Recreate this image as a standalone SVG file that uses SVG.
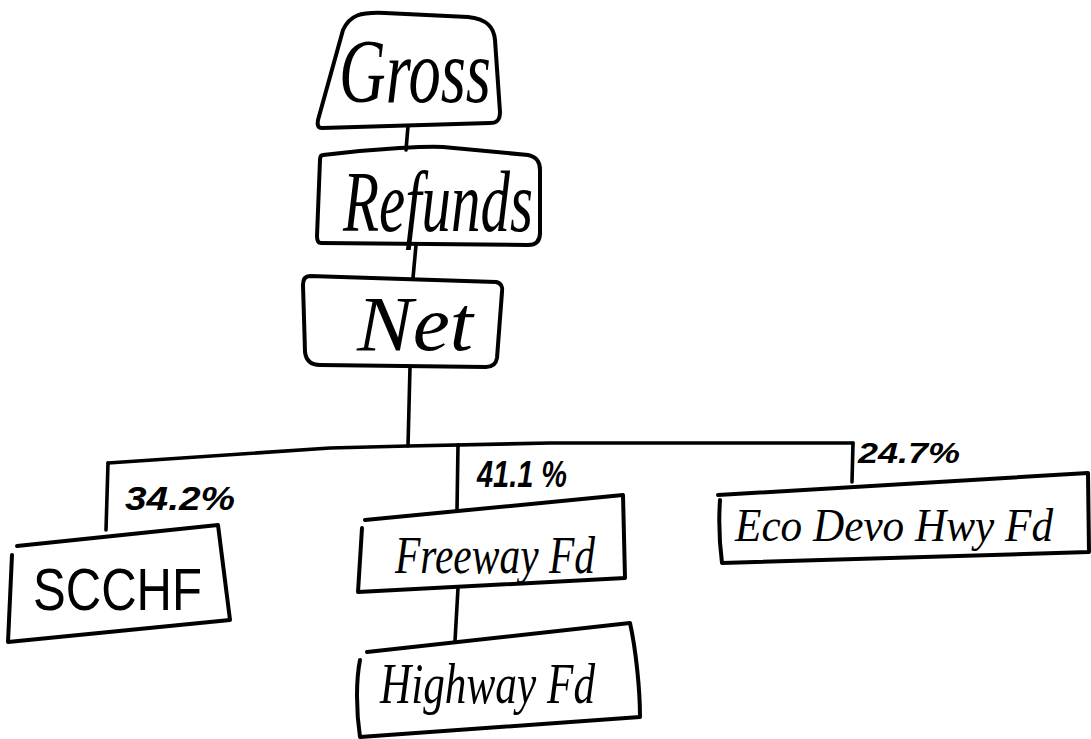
<svg xmlns="http://www.w3.org/2000/svg" width="1091" height="739" viewBox="0 0 1091 739">
<style>
.box{fill:none;stroke:#000;stroke-width:4;stroke-linejoin:round;stroke-linecap:round}
.ln{fill:none;stroke:#000;stroke-width:3.6;stroke-linecap:round;stroke-linejoin:round}
.cur{font-family:"Liberation Serif",serif;font-style:italic;fill:#000}
.prt{font-family:"Liberation Sans",sans-serif;fill:#000}
.pct{font-family:"Liberation Sans",sans-serif;font-style:italic;font-weight:bold;fill:#000}
</style>
<rect width="1091" height="739" fill="#fff"/>
<g id="connectors">
  <path class="ln" d="M408,126 L406,150"/>
  <path class="ln" d="M416,245 L413,278"/>
  <path class="ln" d="M410,367 L408,446"/>
  <path class="ln" d="M108,463 L330,448 L408,446 L550,443 L853,443"/>
  <path class="ln" d="M108,463 L106,530"/>
  <path class="ln" d="M458,445 L457,510"/>
  <path class="ln" d="M853,443 L852,482"/>
  <path class="ln" d="M458,588 L455,641"/>
  <text class="pct" x="125" y="510" font-size="34" textLength="110" lengthAdjust="spacingAndGlyphs">34.2%</text>
  <text class="pct" x="477" y="487" font-size="36" textLength="90" lengthAdjust="spacingAndGlyphs">41.1 %</text>
  <text class="pct" x="858" y="463" font-size="30" textLength="102" lengthAdjust="spacingAndGlyphs">24.7%</text>
</g>
<g id="gross">
  <path class="box" d="M343,30 C350,15 360,12 385,13 L468,17 C488,19 494,28 495,40 L500,112 C500,120 497,123 490,123 L322,128 C318,128 317,125 318,120 Z"/>
  <text class="cur" x="415" y="102" font-size="92" text-anchor="middle" textLength="152" lengthAdjust="spacingAndGlyphs">Gross</text>
</g>
<g id="refunds">
  <path class="box" d="M323,155 C380,148 430,146 443,147 L528,155 C537,157 540,162 540,170 L540,233 C540,241 536,245 528,245 L321,243 C318,243 317,240 317,236 L320,160 C320,157 321,155 323,155 Z"/>
  <text class="cur" x="438" y="231" font-size="86" text-anchor="middle" textLength="190" lengthAdjust="spacingAndGlyphs">Refunds</text>
</g>
<g id="net">
  <path class="box" d="M310,276 L496,282 C501,283 503,287 502,292 L497,358 C496,364 493,367 486,367 L320,365 C311,365 306,360 305,352 L303,285 C303,279 305,276 310,276 Z"/>
  <text class="cur" x="415" y="350" font-size="78" text-anchor="middle" textLength="116" lengthAdjust="spacingAndGlyphs">Net</text>
</g>
<g id="scchf">
  <path class="box" d="M17,546 L218,525 L230,620 L8,642 L12,555"/>
  <text class="prt" x="33" y="610" font-size="60" textLength="169" lengthAdjust="spacingAndGlyphs">SCCHF</text>
</g>
<g id="freeway">
  <path class="box" d="M365,520 L623,495 L625,578 L358,592 L362,528"/>
  <text class="cur" x="395" y="573" font-size="52" textLength="200" lengthAdjust="spacingAndGlyphs">Freeway Fd</text>
</g>
<g id="highway">
  <path class="box" d="M367,652 L630,623 C636,650 640,690 640,717 L360,737 C356,710 356,680 360,660"/>
  <text class="cur" x="380" y="703" font-size="58" textLength="215" lengthAdjust="spacingAndGlyphs">Highway Fd</text>
</g>
<g id="eco">
  <path class="box" d="M718,495 L1088,473 L1089,552 L722,563 C719,540 719,515 720,500"/>
  <text class="cur" x="735" y="541" font-size="46" textLength="318" lengthAdjust="spacingAndGlyphs">Eco Devo Hwy Fd</text>
</g>
</svg>
